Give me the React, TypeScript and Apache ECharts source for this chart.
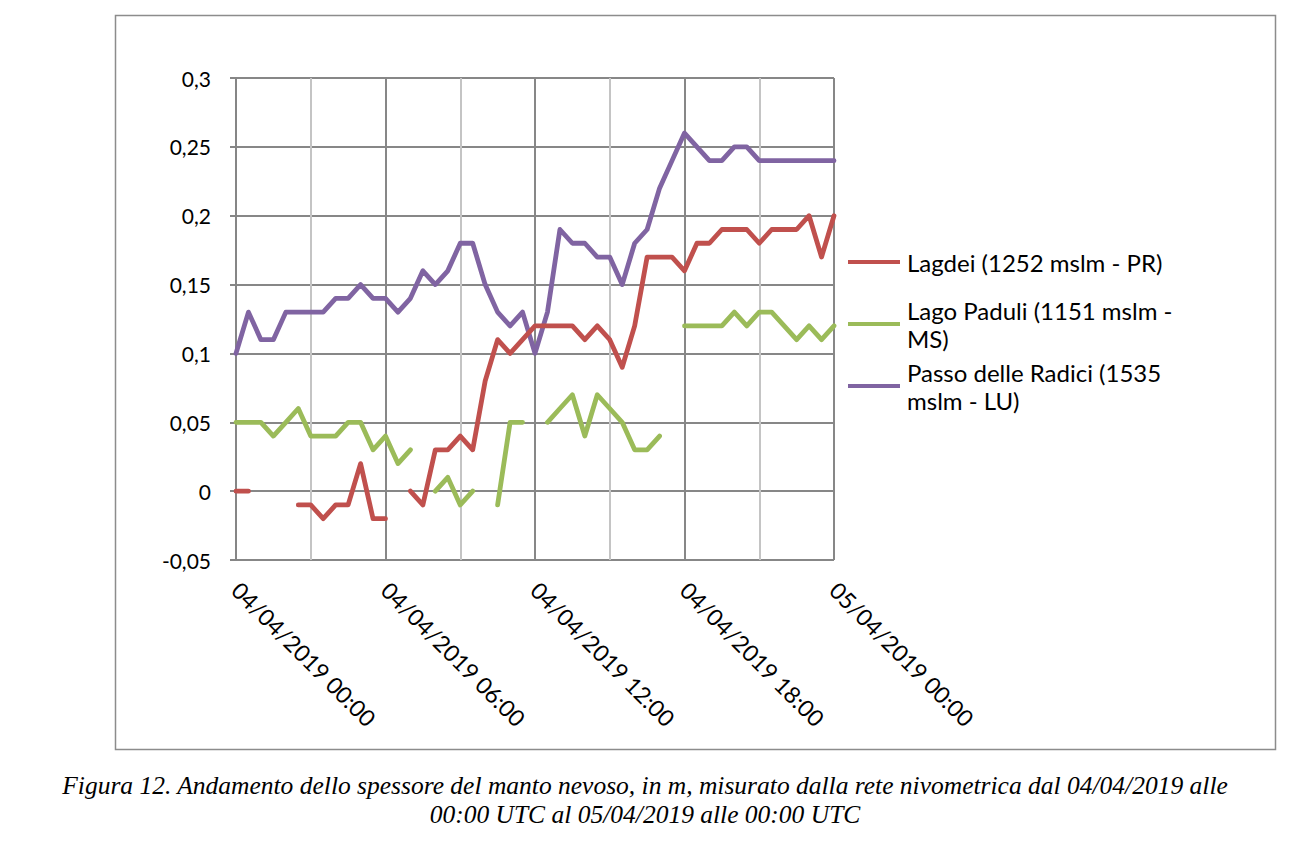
import React, { useEffect, useRef } from "react";
import * as echarts from "echarts";

// Half-hourly timestamps from 04/04/2019 00:00 to 05/04/2019 00:00
const categories: string[] = [];
for (let i = 0; i <= 48; i++) {
  const day = i === 48 ? "05/04/2019" : "04/04/2019";
  const h = Math.floor((i % 48) / 2);
  const m = i % 2 === 0 ? "00" : "30";
  categories.push(`${day} ${String(h).padStart(2, "0")}:${m}`);
}

const seriesNames = [
  "Lagdei (1252 mslm - PR)",
  "Lago Paduli (1151 mslm - MS)",
  "Passo delle Radici (1535 mslm - LU)",
];

const lagdei: (number | null)[] = [
  0, 0, null, null, null, -0.01, -0.01, -0.02, -0.01, -0.01,
  0.02, -0.02, -0.02, null, 0, -0.01, 0.03, 0.03, 0.04, 0.03,
  0.08, 0.11, 0.1, 0.11, 0.12, 0.12, 0.12, 0.12, 0.11, 0.12,
  0.11, 0.09, 0.12, 0.17, 0.17, 0.17, 0.16, 0.18, 0.18, 0.19,
  0.19, 0.19, 0.18, 0.19, 0.19, 0.19, 0.2, 0.17, 0.2,
];

const lagoPaduli: (number | null)[] = [
  0.05, 0.05, 0.05, 0.04, 0.05, 0.06, 0.04, 0.04, 0.04, 0.05,
  0.05, 0.03, 0.04, 0.02, 0.03, null, 0, 0.01, -0.01, 0,
  null, -0.01, 0.05, 0.05, null, 0.05, 0.06, 0.07, 0.04, 0.07,
  0.06, 0.05, 0.03, 0.03, 0.04, null, 0.12, 0.12, 0.12, 0.12,
  0.13, 0.12, 0.13, 0.13, 0.12, 0.11, 0.12, 0.11, 0.12,
];

const passoRadici: (number | null)[] = [
  0.1, 0.13, 0.11, 0.11, 0.13, 0.13, 0.13, 0.13, 0.14, 0.14,
  0.15, 0.14, 0.14, 0.13, 0.14, 0.16, 0.15, 0.16, 0.18, 0.18,
  0.15, 0.13, 0.12, 0.13, 0.1, 0.13, 0.19, 0.18, 0.18, 0.17,
  0.17, 0.15, 0.18, 0.19, 0.22, 0.24, 0.26, 0.25, 0.24, 0.24,
  0.25, 0.25, 0.24, 0.24, 0.24, 0.24, 0.24, 0.24, 0.24,
];

const colors = ["#C0504D", "#9BBB59", "#8064A2"];
const legendLabels = [
  "Lagdei (1252 mslm - PR)",
  "Lago Paduli (1151 mslm -\nMS)",
  "Passo delle Radici (1535\nmslm - LU)",
];
const captionLines = [
  "Figura 12. Andamento dello spessore del manto nevoso, in m, misurato dalla rete nivometrica dal 04/04/2019 alle",
  "00:00 UTC al 05/04/2019 alle 00:00 UTC",
];

const FONT = "Lato, 'Noto Sans', sans-serif";

export default function App() {
  const ref = useRef<HTMLDivElement>(null);
  useEffect(() => {
    if (!ref.current) return;
    const chart = echarts.init(ref.current, null, { renderer: "svg" });
    const dataSets = [lagdei, lagoPaduli, passoRadici];
    const legendTops = [248, 282, 344];
    const option: any = {
      animation: false,
      backgroundColor: "#ffffff",
      grid: { left: 236, top: 78, right: 456, bottom: 281, containLabel: false },
      legend: seriesNames.map((name, i) => ({
        data: [name],
        left: 848,
        top: legendTops[i],
        padding: 0,
        orient: "vertical",
        icon: "rect",
        itemWidth: 52,
        itemHeight: 4,
        itemGap: 0,
        formatter: () => legendLabels[i],
        textStyle: {
          fontFamily: FONT,
          fontSize: 24,
          color: "#000",
          lineHeight: 28,
          padding: i === 0 ? [0, 0, 0, 2] : [28, 0, 0, 2],
        },
      })),
      xAxis: {
        type: "category",
        data: categories,
        boundaryGap: false,
        axisLine: { show: false },
        axisTick: { show: true, interval: 11, length: 6, lineStyle: { color: "#868686", width: 2 } },
        axisLabel: {
          interval: 11,
          rotate: -45,
          margin: 26,
          fontFamily: FONT,
          fontSize: 23,
          color: "#000",
        },
        splitLine: {
          show: true,
          interval: 5,
          lineStyle: { color: ["#878787", "#C4C4C4"], width: 2 },
        },
      },
      yAxis: {
        type: "value",
        min: -0.05,
        max: 0.3,
        interval: 0.05,
        axisLine: { show: true, lineStyle: { color: "#868686", width: 2 } },
        axisTick: { show: true, length: 6, lineStyle: { color: "#868686", width: 2 } },
        axisLabel: {
          margin: 25,
          fontFamily: FONT,
          fontSize: 21,
          color: "#000",
          formatter: (v: number) => String(+v.toFixed(2)).replace(".", ","),
        },
        splitLine: { show: true, lineStyle: { color: "#878787", width: 2 } },
      },
      series: seriesNames.map((name, i) => ({
        name,
        type: "line",
        data: dataSets[i],
        showSymbol: false,
        symbol: "none",
        connectNulls: false,
        color: colors[i],
        lineStyle: { color: colors[i], width: 4.8, cap: "round", join: "round" },
        z: 3 + (2 - i),
      })),
      graphic: [
        {
          type: "rect",
          shape: { x: 115.5, y: 15.5, width: 1160, height: 734 },
          style: { fill: "none", stroke: "#8C8C8C", lineWidth: 1.5 },
          silent: true,
        },
        ...captionLines.map((t, i) => ({
          type: "text",
          x: 645,
          y: 785 + i * 29,
          style: {
            text: t,
            font: "italic 25.5px 'Liberation Serif', 'Times New Roman', serif",
            fill: "#000",
            textAlign: "center",
            textVerticalAlign: "middle",
          },
        })),
      ],
    };
    chart.setOption(option);
    return () => chart.dispose();
  }, []);
  return (
    <div
      ref={ref}
      style={{ position: "fixed", left: 0, top: 0, width: 1290, height: 841, background: "#fff" }}
    />
  );
}
